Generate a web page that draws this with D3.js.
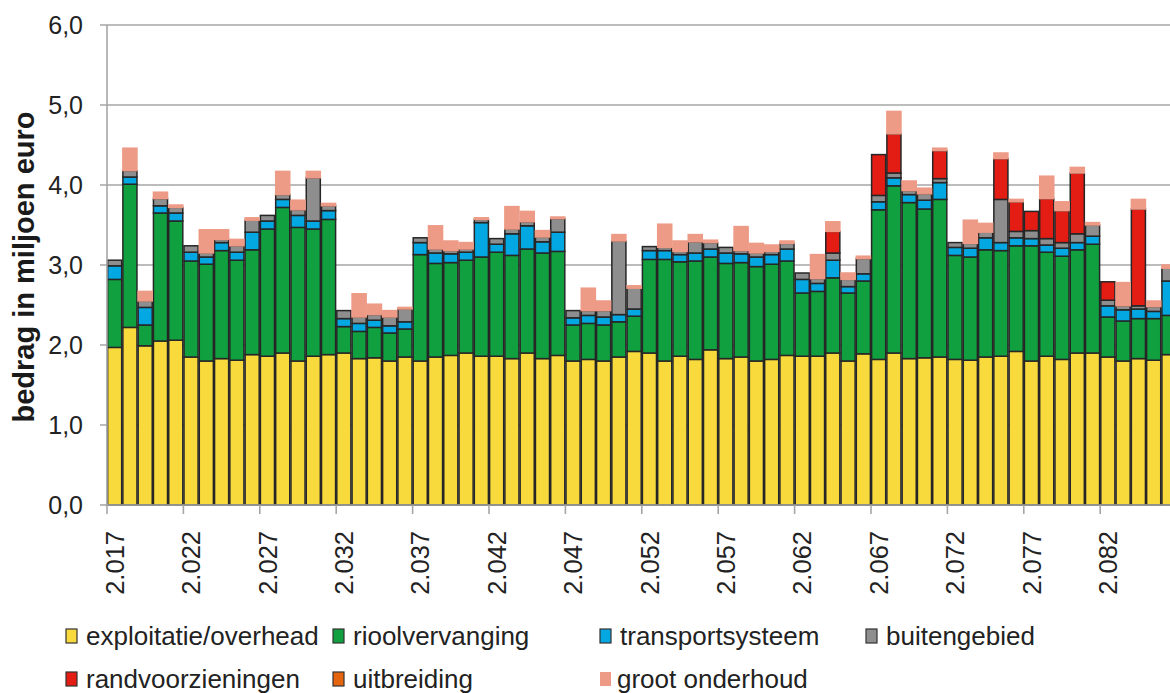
<!DOCTYPE html>
<html><head><meta charset="utf-8">
<script src="https://cdn.jsdelivr.net/npm/d3@7"></script>
<style>
html,body{margin:0;padding:0;background:#fff;}
svg{display:block;font-family:"Liberation Sans",Arial,sans-serif;}
</style></head>
<body><svg id="chart" width="1170" height="693"></svg>
<script>
const years = [2017,2018,2019,2020,2021,2022,2023,2024,2025,2026,2027,2028,2029,2030,2031,2032,2033,2034,2035,2036,
2037,2038,2039,2040,2041,2042,2043,2044,2045,2046,2047,2048,2049,2050,2051,2052,2053,2054,2055,2056,
2057,2058,2059,2060,2061,2062,2063,2064,2065,2066,2067,2068,2069,2070,2071,2072,2073,2074,2075,2076,
2077,2078,2079,2080,2081,2082,2083,2084,2085,2086];
const xTickLabels = ["2.017","2.022","2.027","2.032","2.037","2.042","2.047","2.052","2.057","2.062","2.067","2.072","2.077","2.082"];
const yTickValues = [0,1,2,3,4,5,6];

const exploitatie = [1.97,2.22,1.99,2.05,2.06,1.85,1.80,1.83,1.81,1.88,1.86,1.90,1.80,1.86,1.88,1.90,1.83,1.84,1.80,1.85,
1.80,1.85,1.87,1.90,1.86,1.86,1.83,1.90,1.83,1.87,1.80,1.82,1.80,1.85,1.92,1.90,1.80,1.86,1.82,1.94,
1.83,1.85,1.80,1.82,1.87,1.86,1.86,1.90,1.80,1.89,1.82,1.90,1.83,1.84,1.85,1.82,1.81,1.85,1.86,1.92,
1.80,1.86,1.82,1.90,1.90,1.85,1.80,1.83,1.81,1.88];
const rioolvervanging = [0.85,1.79,0.26,1.60,1.49,1.20,1.21,1.35,1.25,1.31,1.59,1.82,1.67,1.59,1.69,0.33,0.34,0.38,0.35,0.35,
1.33,1.17,1.16,1.16,1.24,1.30,1.29,1.30,1.32,1.30,0.45,0.45,0.45,0.44,0.44,1.17,1.27,1.18,1.23,1.16,
1.19,1.18,1.18,1.19,1.18,0.79,0.81,0.94,0.85,0.91,1.87,2.09,1.95,1.86,1.97,1.30,1.29,1.34,1.32,1.32,
1.44,1.30,1.29,1.29,1.36,0.50,0.50,0.50,0.52,0.49];
const transportsysteem = [0.17,0.09,0.22,0.09,0.10,0.11,0.09,0.10,0.10,0.22,0.10,0.10,0.15,0.10,0.11,0.10,0.10,0.09,0.09,0.09,
0.15,0.13,0.11,0.10,0.43,0.10,0.27,0.29,0.14,0.24,0.09,0.10,0.10,0.09,0.09,0.11,0.11,0.09,0.10,0.10,
0.13,0.11,0.12,0.12,0.15,0.17,0.10,0.22,0.08,0.09,0.10,0.10,0.10,0.11,0.21,0.10,0.11,0.15,0.10,0.10,
0.09,0.09,0.10,0.09,0.10,0.14,0.14,0.12,0.09,0.43];
const buitengebied = [0.07,0.08,0.08,0.09,0.07,0.08,0.05,0.04,0.08,0.15,0.07,0.06,0.07,0.54,0.06,0.10,0.08,0.07,0.11,0.16,
0.06,0.05,0.04,0.04,0.04,0.07,0.06,0.05,0.06,0.17,0.09,0.06,0.08,0.92,0.26,0.05,0.04,0.04,0.14,0.08,
0.07,0.04,0.05,0.04,0.07,0.08,0.06,0.09,0.09,0.19,0.08,0.06,0.05,0.08,0.05,0.06,0.06,0.07,0.54,0.08,
0.10,0.08,0.07,0.11,0.14,0.07,0.05,0.04,0.06,0.16];
const randvoorzieningen = [0,0,0,0,0,0,0,0,0,0,0,0,0,0,0,0,0,0,0,0,
0,0,0,0,0,0,0,0,0,0,0,0,0,0,0,0,0,0,0,0,
0,0,0,0,0,0,0,0.27,0,0,0.51,0.49,0,0,0.35,0,0,0,0.51,0.37,
0.24,0.50,0.40,0.76,0,0.23,0,1.21,0,0];
const uitbreiding = [0,0,0,0,0,0,0,0,0,0,0,0,0,0,0,0,0,0,0,0,
0,0,0,0,0,0,0,0,0,0,0,0,0,0,0,0,0,0,0,0,
0,0,0,0,0,0,0,0,0,0,0,0,0,0,0,0,0,0,0,0,
0,0,0,0,0,0,0,0,0,0];
const grootOnderhoud = [0,0.28,0.12,0.08,0.03,0,0.29,0.12,0.08,0.03,0,0.29,0.12,0.08,0.03,0,0.29,0.13,0.08,0.02,
0,0.29,0.12,0.08,0.02,0,0.28,0.13,0.08,0.02,0,0.28,0.12,0.08,0.03,0,0.29,0.13,0.09,0.03,
0,0.30,0.12,0.08,0.03,0,0.30,0.12,0.08,0.03,0,0.28,0.12,0.07,0.03,0,0.29,0.11,0.07,0.03,
0,0.28,0.11,0.07,0.03,0,0.29,0.12,0.07,0.04];

const seriesNames = ["exploitatie/overhead","rioolvervanging","transportsysteem","buitengebied","randvoorzieningen","uitbreiding","groot onderhoud"];
const seriesArrays = [exploitatie,rioolvervanging,transportsysteem,buitengebied,randvoorzieningen,uitbreiding,grootOnderhoud];
const colors = ["#f8da3c","#11a040","#03a8e2","#8e8e8e","#e31d14","#e5650f","#ed9b86"];
const strokes = ["#262626","#262626","#262626","#262626","#262626","#262626","#ed9b86"];

const rows = years.map((yr,i)=>{const r={year:yr}; seriesNames.forEach((n,k)=>r[n]=seriesArrays[k][i]); return r;});
const stacked = d3.stack().keys(seriesNames)(rows);

const svg = d3.select("#chart");
const plotLeft = 107, bandW = 15.28, plotBottom = 505, plotTop = 25;
const x = d3.scaleBand().domain(years).range([plotLeft, plotLeft + bandW*years.length]).padding(0);
const y = d3.scaleLinear().domain([0,6]).range([plotBottom, plotTop]);

// gridlines
svg.append("g").selectAll("line").data(yTickValues.filter(v=>v>0)).join("line")
  .attr("x1", plotLeft-7).attr("x2", 1170).attr("y1", d=>y(d)).attr("y2", d=>y(d))
  .attr("stroke","#a6a6a6").attr("stroke-width",1.6);
svg.append("line").attr("x1",plotLeft-7).attr("x2",plotLeft).attr("y1",y(0)).attr("y2",y(0)).attr("stroke","#a6a6a6").attr("stroke-width",1.6);

// bars
const g = svg.append("g");
stacked.forEach((s,k)=>{
  g.append("g").selectAll("rect").data(s.filter(d=>d[1]-d[0]>0)).join("rect")
    .attr("x", d=>x(d.data.year)+0.6)
    .attr("width", x.bandwidth()-1.2)
    .attr("y", d=>y(d[1]))
    .attr("height", d=>y(d[0])-y(d[1]))
    .attr("fill", colors[k])
    .attr("stroke", strokes[k])
    .attr("stroke-width", 1.5);
});

// axis lines
svg.append("line").attr("x1",plotLeft).attr("x2",plotLeft).attr("y1",plotTop).attr("y2",plotBottom).attr("stroke","#a6a6a6").attr("stroke-width",1.6);
svg.append("line").attr("x1",plotLeft).attr("x2",1170).attr("y1",plotBottom).attr("y2",plotBottom).attr("stroke","#a6a6a6").attr("stroke-width",1.6);

// y tick labels
svg.append("g").selectAll("text").data(yTickValues).join("text")
  .attr("x", 83).attr("y", d=>y(d)).attr("dy","0.36em")
  .attr("text-anchor","end").attr("font-size",25).attr("fill","#222")
  .text(d=>d3.format(".1f")(d).replace(".",","));

// x ticks & labels (every 5 years)
const labelYears = years.filter((d,i)=>i%5===0);
const tickXs = labelYears.map(d=>x(d)).concat([x.range()[1]]);
svg.append("g").selectAll("line").data(tickXs).join("line")
  .attr("x1", d=>d).attr("x2", d=>d)
  .attr("y1", plotBottom).attr("y2", plotBottom+9).attr("stroke","#a6a6a6").attr("stroke-width",1.6);
svg.append("g").selectAll("text").data(labelYears).join("text")
  .attr("transform", d=>`translate(${x(d)+x.bandwidth()/2},531) rotate(-90)`)
  .attr("text-anchor","end").attr("dy","0.36em").attr("font-size",25.5).attr("fill","#222")
  .text((d,i)=>xTickLabels[i]);

// y title
svg.append("text").attr("transform","translate(24,267) rotate(-90)")
  .attr("text-anchor","middle").attr("dy","0.36em").attr("font-size",29).attr("font-weight","bold").attr("fill","#1a1a1a")
  .text("bedrag in miljoen euro");

// legend
const legendPos = [[66,636],[333,636],[600,636],[866,636],[66,679],[333,679],[600,679]];
const lg = svg.append("g");
seriesNames.forEach((n,k)=>{
  const [lx,ly] = legendPos[k];
  lg.append("rect").attr("x",lx).attr("y",ly-7).attr("width",11).attr("height",14)
    .attr("fill",colors[k]).attr("stroke", k===6? "none":"#333").attr("stroke-width",1.2);
  lg.append("text").attr("x", lx + (k===6?17:20)).attr("y",ly).attr("dy","0.36em")
    .attr("font-size",26).attr("fill","#222").text(n);
});
</script></body></html>
